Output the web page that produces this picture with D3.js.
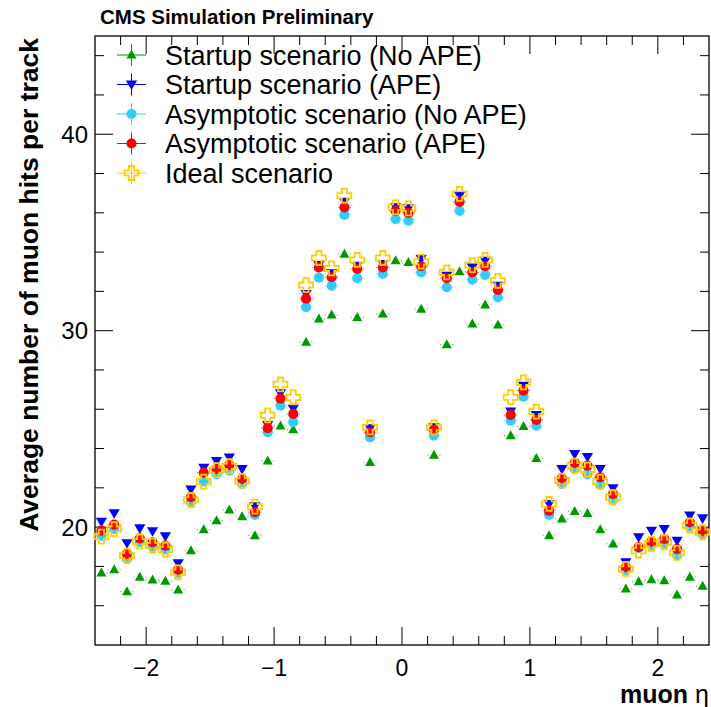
<!DOCTYPE html>
<html>
<head>
<meta charset="utf-8">
<script src="https://cdn.jsdelivr.net/npm/d3@7"></script>
<style>
body { margin: 0; background: #fff; }
text { font-family: "Liberation Sans", Arial, sans-serif; }
</style>
</head>
<body>
<div id="chart"></div>
<script>
// bin centres in eta, 0.1 wide
var etaBins = [-2.35, -2.25, -2.15, -2.05, -1.95, -1.85, -1.75, -1.65, -1.55, -1.45, -1.35, -1.25,
    -1.15, -1.05, -0.95, -0.85, -0.75, -0.65, -0.55, -0.45, -0.35, -0.25, -0.15, -0.05,
    0.05, 0.15, 0.25, 0.35, 0.45, 0.55, 0.65, 0.75, 0.85, 0.95, 1.05, 1.15,
    1.25, 1.35, 1.45, 1.55, 1.65, 1.75, 1.85, 1.95, 2.05, 2.15, 2.25, 2.35];

var startupNoApe = [17.67, 17.84, 16.72, 17.45, 17.31, 17.25, 16.8, 18.8, 19.87, 20.33, 20.88, 20.53,
    19.57, 23.37, 25.15, 24.96, 29.41, 30.6, 30.8, 33.9, 30.68, 23.3, 30.85, 33.56,
    33.48, 31.1, 23.67, 29.29, 33.0, 30.34, 31.31, 30.29, 24.66, 25.13, 23.5, 19.57,
    20.42, 20.8, 20.7, 19.87, 19.15, 16.85, 17.23, 17.33, 17.28, 16.55, 17.45, 16.99];

var startupApe = [20.28, 20.71, 19.18, 19.94, 19.79, 19.54, 18.16, 21.92, 23.02, 23.37, 23.54, 22.96,
    21.06, 25.2, 26.82, 26.02, 31.87, 33.34, 32.92, 36.56, 33.31, 25.03, 33.39, 36.28,
    36.23, 33.65, 25.08, 32.8, 36.87, 33.22, 33.56, 32.29, 25.88, 27.2, 25.71, 21.18,
    22.96, 23.72, 23.57, 22.96, 21.98, 18.21, 19.49, 19.82, 19.91, 19.31, 20.59, 20.45];

var asymptoticNoApe = [19.57, 19.9, 18.38, 19.23, 19.0, 18.86, 17.67, 21.27, 22.33, 22.7, 22.88, 22.2,
    20.62, 24.83, 26.18, 25.34, 31.2, 32.7, 32.29, 35.89, 32.67, 24.57, 32.89, 35.68,
    35.6, 32.97, 24.66, 32.21, 36.1, 32.6, 32.84, 31.7, 25.42, 26.64, 25.17, 20.62,
    22.2, 22.96, 22.7, 22.15, 21.4, 17.78, 18.93, 19.1, 19.15, 18.58, 20.03, 19.65];

var asymptoticApe = [19.82, 20.13, 18.64, 19.43, 19.23, 19.06, 17.84, 21.53, 22.77, 22.96, 23.17, 22.45,
    20.76, 25.04, 26.54, 25.76, 31.63, 33.22, 32.72, 36.28, 33.14, 24.83, 33.22, 36.1,
    36.0, 33.28, 24.96, 32.67, 36.56, 32.97, 33.28, 32.07, 25.71, 26.95, 25.46, 20.84,
    22.49, 23.27, 23.13, 22.54, 21.69, 17.96, 18.98, 19.26, 19.4, 18.89, 20.25, 19.82];

var ideal = [19.52, 19.9, 18.55, 19.26, 19.06, 18.86, 17.7, 21.38, 22.32, 22.9, 23.1, 22.35,
    21.04, 25.69, 27.27, 26.6, 32.32, 33.7, 33.17, 36.87, 33.6, 25.08, 33.7, 36.28,
    36.23, 33.51, 25.08, 32.97, 36.96, 33.34, 33.6, 32.54, 26.61, 27.37, 25.88, 21.18,
    22.37, 23.13, 22.93, 22.32, 21.52, 17.87, 18.8, 19.15, 19.23, 18.69, 20.08, 19.74];

var seriesNames = ["Startup scenario (No APE)", "Startup scenario (APE)",
    "Asymptotic scenario (No APE)", "Asymptotic scenario (APE)", "Ideal scenario"];
var seriesValues = [startupNoApe, startupApe, asymptoticNoApe, asymptoticApe, ideal];

var xTicks = [-2, -1, 0, 1, 2];
var yTicks = [20, 30, 40];

var colors = ["#009900", "#0000ff", "#33ccff", "#ff0000", "#ffcc00"],
    shapes = ["triUp", "triDown", "circle", "circle", "cross"];

var W = 711, H = 707,
    frame = { left: 95, right: 709, top: 36, bottom: 645 },
    binWidth = 0.1;

var svg = d3.select("#chart").append("svg").attr("width", W).attr("height", H);

var x = d3.scaleLinear().domain([-2.4, 2.4]).range([frame.left, frame.right]);
var y = d3.scaleLinear().domain([14, 45]).range([frame.bottom, frame.top]);

// marker paths, centred at 0,0
function markerPath(shape) {
    if (shape == "triUp") return "M0,-5.4L5,3.6L-5,3.6Z";
    if (shape == "triDown") return "M0,5.6L5.6,-4L-5.6,-4Z";
    if (shape == "circle") return d3.symbol().type(d3.symbolCircle).size(Math.PI * 5.1 * 5.1)();
    var a = 2.6, b = 7;
    return "M" + (-a) + "," + (-b) + "H" + a + "V" + (-a) + "H" + b + "V" + a + "H" + a + "V" + b +
        "H" + (-a) + "V" + a + "H" + (-b) + "V" + (-a) + "H" + (-a) + "Z";
}
var halfWidth = { triUp: 5, triDown: 5.6, circle: 5.1, cross: 7 };

function drawMarker(g, shape, color) {
    if (shape == "cross") {
        g.append("path").attr("d", markerPath(shape)).attr("fill", "none")
            .attr("stroke", color).attr("stroke-width", 1.8);
    } else {
        g.append("path").attr("d", markerPath(shape)).attr("fill", color);
    }
}

// frame and ticks (all four sides)
var axes = svg.append("g").attr("stroke", "#000").attr("stroke-width", 1);
axes.append("rect").attr("x", frame.left).attr("y", frame.top)
    .attr("width", frame.right - frame.left).attr("height", frame.bottom - frame.top)
    .attr("fill", "none").attr("stroke-width", 1.3);

d3.range(-24, 25, 2).forEach(function(k) {
    var v = k / 10, len = (k % 10 == 0) ? 18 : 9;
    if (v <= -2.4 || v >= 2.4) return;
    axes.append("line").attr("x1", x(v)).attr("x2", x(v))
        .attr("y1", frame.bottom).attr("y2", frame.bottom - len);
    axes.append("line").attr("x1", x(v)).attr("x2", x(v))
        .attr("y1", frame.top).attr("y2", frame.top + len);
});
d3.range(16, 45, 2).forEach(function(v) {
    var len = (v % 10 == 0) ? 18 : 9;
    axes.append("line").attr("x1", frame.left).attr("x2", frame.left + len)
        .attr("y1", y(v)).attr("y2", y(v));
    axes.append("line").attr("x1", frame.right).attr("x2", frame.right - len)
        .attr("y1", y(v)).attr("y2", y(v));
});

svg.selectAll(".xlab").data(xTicks).enter().append("text").attr("class", "xlab")
    .attr("x", function(d) { return x(d); }).attr("y", 676)
    .attr("text-anchor", "middle").style("font-size", "23px")
    .text(function(d) { return d < 0 ? "\u2212" + Math.abs(d) : d; });

svg.selectAll(".ylab").data(yTicks).enter().append("text").attr("class", "ylab")
    .attr("x", 88).attr("y", function(d) { return y(d); }).attr("dy", "0.36em")
    .attr("text-anchor", "end").style("font-size", "24px")
    .text(function(d) { return d; });

// axis titles
svg.append("text").attr("transform", "translate(38," + (frame.top + 2) + ") rotate(-90)")
    .attr("text-anchor", "end").style("font-size", "26.5px").style("font-weight", "bold")
    .text("Average number of muon hits per track");

var xt = svg.append("text").attr("x", frame.right).attr("y", 703).attr("text-anchor", "end")
    .style("font-size", "25px");
xt.append("tspan").style("font-weight", "bold").text("muon ");
xt.append("tspan").text("\u03b7");

svg.append("text").attr("x", 100).attr("y", 24).style("font-size", "20.5px").style("font-weight", "bold")
    .text("CMS Simulation Preliminary");

// data points with x error bars
var plot = svg.append("g");
seriesValues.forEach(function(vals, s) {
    var g = plot.append("g");
    var hw = halfWidth[shapes[s]] + 0.6;
    vals.forEach(function(v, i) {
        var cx = x(etaBins[i]), cy = y(v),
            lo = x(etaBins[i] - binWidth / 2), hi = x(etaBins[i] + binWidth / 2);
        if (cx - hw > lo) {
            g.append("line").attr("x1", lo).attr("x2", cx - hw).attr("y1", cy).attr("y2", cy)
                .attr("stroke", colors[s]).attr("stroke-width", 1);
            g.append("line").attr("x1", cx + hw).attr("x2", hi).attr("y1", cy).attr("y2", cy)
                .attr("stroke", colors[s]).attr("stroke-width", 1);
        }
        var m = g.append("g").attr("transform", "translate(" + cx + "," + cy + ")");
        drawMarker(m, shapes[s], colors[s]);
    });
});

// legend
var legend = svg.selectAll(".legend").data(seriesNames).enter().append("g").attr("class", "legend")
    .attr("transform", function(d, i) { return "translate(0," + (55 + i * 29.5) + ")"; });
legend.append("line").attr("x1", 117).attr("x2", 146).attr("y1", 0).attr("y2", 0)
    .attr("stroke", function(d, i) { return colors[i]; });
legend.append("line").attr("x1", 131.5).attr("x2", 131.5).attr("y1", -11).attr("y2", 11)
    .attr("stroke", function(d, i) { return colors[i]; });
legend.each(function(d, i) {
    var m = d3.select(this).append("g").attr("transform", "translate(131.5,0)");
    drawMarker(m, shapes[i], colors[i]);
});
legend.append("text").attr("x", 165).attr("y", 0).attr("dy", "0.36em")
    .style("font-size", "27px").text(function(d) { return d; });
</script>
</body>
</html>
